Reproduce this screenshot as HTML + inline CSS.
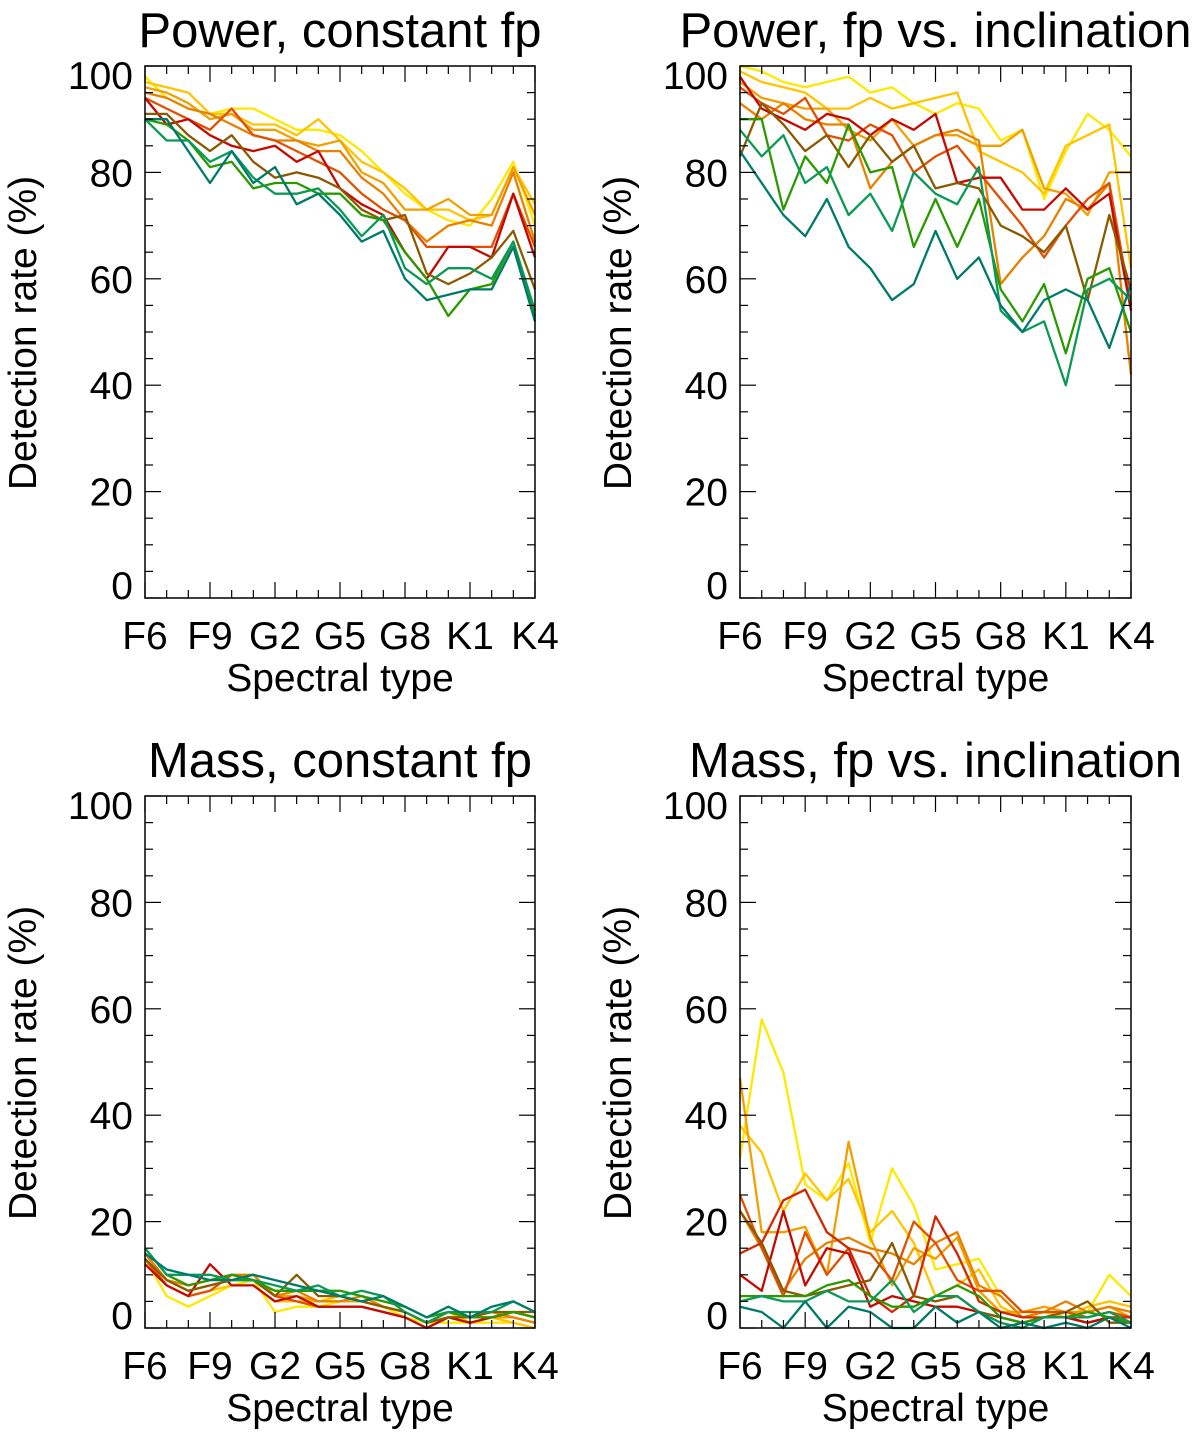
<!DOCTYPE html>
<html><head><meta charset="utf-8"><style>
body{margin:0;background:#fff;}
svg{display:block;font-family:"Liberation Sans",sans-serif;}
</style></head><body>
<svg id="fig" width="1200" height="1437" viewBox="0 0 1200 1437"></svg>
<script>
const categories=['F6','F7','F8','F9','G0','G1','G2','G3','G4','G5','G6','G7','G8','G9','K0','K1','K2','K3','K4'];
const xTickLabels=['F6','F9','G2','G5','G8','K1','K4'];
const yTicks=[0,20,40,60,80,100];
const colors=['#ffe800','#ffc400','#f2a000','#e88000','#e05000','#d02800','#c40a00','#8a5a00','#2a9a00','#0a9a55','#007a6a'];
const titles=['Power, constant fp','Power, fp vs. inclination','Mass, constant fp','Mass, fp vs. inclination'];
const p1=[
[98,94,92,91,92,92,90,88,88,87,84,80,76,73,71,70,75,82,70],
[97,96,95,91,91,89,89,87,90,86,82,80,77,73,73,71,72,81,74],
[96,95,93,90,91,88,88,86,85,86,80,78,73,73,75,72,72,81,72],
[95,94,92,91,89,87,86,86,84,84,79,76,71,67,70,71,70,80,67],
[94,92,90,88,92,87,86,84,82,80,76,73,71,66,66,66,66,76,66],
[94,89,90,87,85,84,85,82,84,77,74,72,65,60,66,66,64,76,64],
[91,91,87,84,87,82,79,80,79,77,73,71,72,61,59,61,64,69,58],
[90,89,86,81,82,77,78,78,76,76,72,71,65,60,53,58,59,67,53],
[90,86,86,82,84,79,76,76,77,73,68,72,62,59,62,62,60,67,54],
[90,90,84,78,84,78,81,74,76,72,67,69,60,56,57,58,58,66,52]];
const p2=[
[100,99,97,96,97,98,95,96,93,91,93,92,86,88,75,84,91,88,83],
[99,97,96,95,92,92,94,92,93,94,95,84,82,80,76,85,87,89,62],
[97,94,93,92,92,88,86,90,85,87,87,85,85,88,77,76,72,80,80],
[93,90,93,90,89,89,77,82,85,87,88,86,59,64,68,75,73,78,42],
[96,93,91,94,87,86,89,87,80,83,85,80,75,70,64,70,75,78,55],
[98,92,90,88,91,90,87,90,88,91,78,79,79,73,73,77,73,76,54],
[83,93,89,84,87,81,87,82,85,77,78,77,70,68,65,70,56,72,58],
[90,90,73,83,78,89,80,81,66,75,66,75,58,52,59,46,60,62,50],
[88,83,87,78,81,72,76,69,80,76,74,81,54,50,52,40,58,60,56],
[84,78,72,68,75,66,62,56,59,69,60,64,55,50,56,58,56,47,59]];
const p3=[
[13,6,4,6,8,9,3,4,4,5,5,4,2,1,1,1,1,1,0],
[13,8,6,7,8,8,5,5,5,6,5,4,3,1,3,1,2,1,0],
[14,9,7,8,9,10,6,6,5,5,5,4,3,1,3,2,2,2,1],
[14,9,8,9,10,10,6,7,5,5,6,4,3,1,2,2,3,2,1],
[13,8,6,7,10,9,6,5,4,4,4,3,2,0,2,2,2,3,2],
[12,8,6,12,8,8,5,6,4,4,4,3,2,0,2,1,2,3,2],
[13,9,7,8,9,9,6,10,6,6,5,4,3,1,2,2,3,3,3],
[15,10,8,9,10,9,7,7,7,7,6,5,4,2,3,2,2,3,2],
[15,10,10,10,9,9,8,7,8,6,7,6,3,1,3,3,3,5,3],
[14,11,10,9,9,10,9,8,7,6,5,6,4,2,4,2,4,5,3]];
const p4=[
[32,58,48,27,24,31,16,30,23,11,12,13,6,2,3,2,3,10,6],
[38,33,22,29,24,28,18,22,16,6,8,11,4,2,3,2,4,5,4],
[47,18,18,19,10,35,17,8,15,13,17,7,3,3,4,3,3,4,2],
[22,15,7,13,16,17,15,14,12,16,18,8,6,2,3,5,3,4,3],
[25,15,6,18,10,15,14,9,20,16,9,7,7,3,3,3,2,3,2],
[14,16,24,26,18,15,6,3,6,21,14,5,3,2,2,2,1,2,2],
[10,7,22,8,15,14,4,6,5,4,4,3,2,1,2,2,1,2,1],
[22,16,7,6,7,8,9,16,6,5,6,3,2,1,2,3,5,1,1],
[6,6,6,6,8,9,6,4,4,6,8,6,2,1,2,2,3,2,1],
[5,6,5,5,7,5,5,9,3,6,6,3,1,0,2,2,2,3,1],
[4,3,0,5,0,4,3,0,0,4,1,3,0,1,0,1,0,2,0]];
const p1c=[0,1,2,3,4,6,7,8,9,10], p2c=p1c, p3c=p1c, p4c=[0,1,2,3,4,5,6,7,8,9,10];
const NS='http://www.w3.org/2000/svg';
const svg=document.getElementById('fig');
function el(t,a,parent){const e=document.createElementNS(NS,t);for(const k in a)e.setAttribute(k,a[k]);(parent||svg).appendChild(e);return e;}
const panels=[
{x0:145,x1:535,y0:66,y1:598,data:p1,cols:p1c,name:'power-constant-fp'},
{x0:740,x1:1131,y0:66,y1:598,data:p2,cols:p2c,name:'power-fp-vs-inclination'},
{x0:145,x1:535,y0:796,y1:1328,data:p3,cols:p3c,name:'mass-constant-fp'},
{x0:740,x1:1131,y0:796,y1:1328,data:p4,cols:p4c,name:'mass-fp-vs-inclination'}];
panels.forEach((p,pi)=>{
  const g=el('g',{});
  
  
  const xs=i=>p.x0+(p.x1-p.x0)*i/(categories.length-1);
  const ys=v=>p.y1-(p.y1-p.y0)*v/100;
  p.data.forEach((s,si)=>{
    const d=s.map((v,i)=>(i?'L':'M')+xs(i).toFixed(1)+' '+ys(v).toFixed(1)).join(' ');
    const path=el('path',{d:d,fill:'none',stroke:colors[p.cols[si]],'stroke-width':2.3,'stroke-linejoin':'round'},g);
    
    
  });
  const box=el('rect',{x:p.x0,y:p.y0,width:p.x1-p.x0,height:p.y1-p.y0,fill:'none',stroke:'#000','stroke-width':1.5},g);
  
  
  categories.forEach((c,i)=>{
    const x=xs(i), L=(i%3===0)?16:8;
    el('line',{x1:x,x2:x,y1:p.y1,y2:p.y1-L,stroke:'#000','stroke-width':1.2},g);
    el('line',{x1:x,x2:x,y1:p.y0,y2:p.y0+L,stroke:'#000','stroke-width':1.2},g);
    if(i%3===0){
      const t=el('text',{x:x,y:p.y1+51,'font-size':39,'text-anchor':'middle'},g);
      t.textContent=xTickLabels[i/3];
      
      
    }
  });
  for(let v=0;v<=100;v+=5){
    const y=ys(v), L=(v%20===0)?16:8;
    el('line',{x1:p.x0,x2:p.x0+L,y1:y,y2:y,stroke:'#000','stroke-width':1.2},g);
    el('line',{x1:p.x1,x2:p.x1-L,y1:y,y2:y,stroke:'#000','stroke-width':1.2},g);
  }
  yTicks.forEach(v=>{
    const off=(v===100)?23:(v===0?1:14);
    const t=el('text',{x:p.x0-12,y:ys(v)+off,'font-size':39,'text-anchor':'end'},g);
    t.textContent=v;
    
    
  });
  const cx=(p.x0+p.x1)/2, cy=(p.y0+p.y1)/2;
  const tt=el('text',{x:cx,y:p.y0-19,'font-size':49,'text-anchor':'middle'},g);
  tt.textContent=titles[pi];
  
  
  const xt=el('text',{x:cx,y:p.y1+93,'font-size':39,'text-anchor':'middle'},g);
  xt.textContent='Spectral type';
  
  
  const yt=el('text',{x:0,y:0,'font-size':39,'text-anchor':'middle',transform:'translate('+(p.x0-109)+','+(cy+1)+') rotate(-90)'},g);
  yt.textContent='Detection rate (%)';
  
  
});
</script>
</body></html>
